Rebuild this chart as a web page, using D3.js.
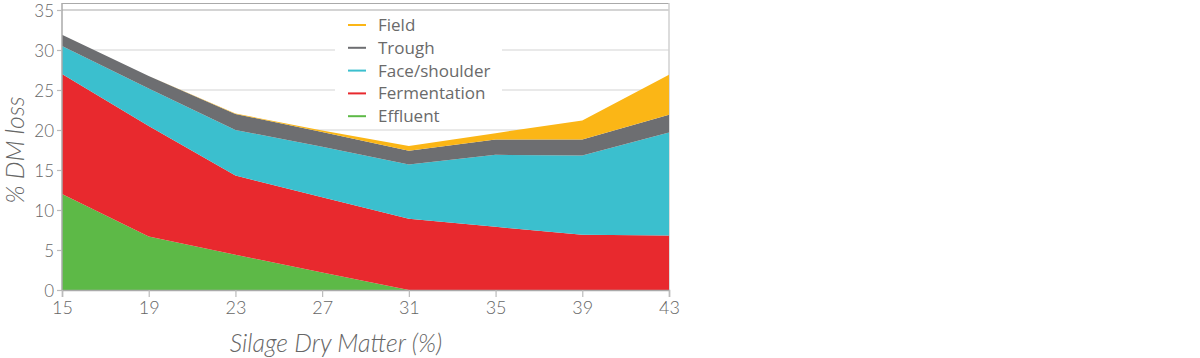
<!DOCTYPE html>
<html><head><meta charset="utf-8">
<script src="https://cdn.jsdelivr.net/npm/d3@7"></script>
<style>
html,body{margin:0;padding:0;background:#fff;}
svg text{font-family:Lato,"Open Sans",sans-serif;font-weight:300;fill:#666;}
</style></head>
<body><svg id="c" width="1200" height="358"></svg>
<script>
const dryMatter = [15, 19, 23, 27, 31, 35, 39, 43];
const effluent = [12, 6.7, 4.4, 2.2, 0, 0, 0, 0];
const fermentation = [15, 13.8, 9.9, 9.4, 8.9, 7.9, 6.9, 6.8];
const faceShoulder = [3.5, 4.7, 5.7, 6.3, 6.8, 9.0, 9.9, 12.9];
const trough = [1.4, 1.55, 2.0, 1.85, 1.7, 1.9, 2.0, 2.2];
const field = [0, 0, 0.05, 0.2, 0.6, 0.8, 2.4, 5.0];
const seriesNames = ["Effluent", "Fermentation", "Face/shoulder", "Trough", "Field"];
const seriesColors = ["#5db947", "#e8292e", "#3bbfce", "#6d6e71", "#fbb616"];
const yTicks = [0, 5, 10, 15, 20, 25, 30, 35];
const xTicks = [15, 19, 23, 27, 31, 35, 39, 43];

const seriesValues = [effluent, fermentation, faceShoulder, trough, field];
const rows = dryMatter.map((d, i) => {
  const r = {dm: d};
  seriesNames.forEach((n, j) => r[n] = seriesValues[j][i]);
  return r;
});

const svg = d3.select("#c");
const L = 62, R = 669, T = 10, B = 290;
const x = d3.scaleLinear().domain([15, 43]).range([L, R]);
const y = d3.scaleLinear().domain([0, 35]).range([B, T]);

// gridlines
svg.append("g").selectAll("line").data(yTicks.filter(t => t > 0)).join("line")
  .attr("x1", L).attr("x2", R).attr("y1", d => y(d)).attr("y2", d => y(d))
  .attr("stroke", d => d === 35 ? "#aaa" : "#d4d4d4").attr("stroke-width", 1.2);

// frame top & right
svg.append("line").attr("x1", L).attr("x2", R).attr("y1", 3.5).attr("y2", 3.5).attr("stroke", "#aaa").attr("stroke-width", 1.2);
svg.append("line").attr("x1", R).attr("x2", R).attr("y1", 3).attr("y2", B).attr("stroke", "#d0d0d0").attr("stroke-width", 1.5);

// legend box (white, covers gridlines)
const lg = svg.append("g");
lg.append("rect").attr("x", 335).attr("y", 12).attr("width", 167).attr("height", 116).attr("fill", "#fff");

// stacked areas
const stack = d3.stack().keys(seriesNames);
const layers = stack(rows);
const area = d3.area().x(d => x(d.data.dm)).y0(d => y(d[0])).y1(d => y(d[1]));
svg.append("g").selectAll("path").data(layers).join("path")
  .attr("d", area).attr("fill", (d, i) => seriesColors[i]);

// legend entries (top to bottom: Field ... Effluent)
const legendOrder = seriesNames.map((n, i) => ({n, c: seriesColors[i]})).reverse();
const le = lg.selectAll("g.e").data(legendOrder).join("g").attr("class", "e")
  .attr("transform", (d, i) => `translate(348,${25 + i * 22.8})`);
le.append("line").attr("x1", 0).attr("x2", 18).attr("y1", 0).attr("y2", 0)
  .attr("stroke", d => d.c).attr("stroke-width", 2);
le.append("text").attr("x", 30).attr("y", 0).attr("dy", "0.35em")
  .style("font-size", "17px").style("font-family", "'Open Sans',sans-serif").style("font-weight", "400").style("fill", "#6a6a6a").text(d => d.n);

// axes
const yAxis = d3.axisLeft(y).tickValues(yTicks).tickSize(5).tickPadding(3);
const gy = svg.append("g").attr("transform", `translate(${L},0)`).call(yAxis);
const xAxis = d3.axisBottom(x).tickValues(xTicks).tickSize(7).tickPadding(4);
const gx = svg.append("g").attr("transform", `translate(0,${B})`).call(xAxis);
[gy, gx].forEach(g => {
  g.select(".domain").attr("stroke", "#aaa").attr("stroke-width", 1.5);
  g.selectAll(".tick line").attr("stroke", "#bbb").attr("stroke-width", 1.2);
  g.selectAll(".tick text").style("font-size", "18px").style("fill", "#666").style("font-family", "Lato,sans-serif").style("font-weight", "300");
});
gy.selectAll(".tick text").style("font-size", "17px").attr("dy", "0.4em");
gy.select(".domain").attr("d", `M0,3V${B}`);

// axis titles
svg.append("text").attr("x", 336).attr("y", 343).attr("text-anchor", "middle").attr("dy", "0.35em")
  .style("font-size", "25px").style("font-style", "italic").text("Silage Dry Matter (%)");
svg.append("text").attr("transform", "translate(15,150) rotate(-90)").attr("text-anchor", "middle").attr("dy", "0.35em")
  .style("font-size", "25px").style("font-style", "italic").text("% DM loss");
</script></body></html>
